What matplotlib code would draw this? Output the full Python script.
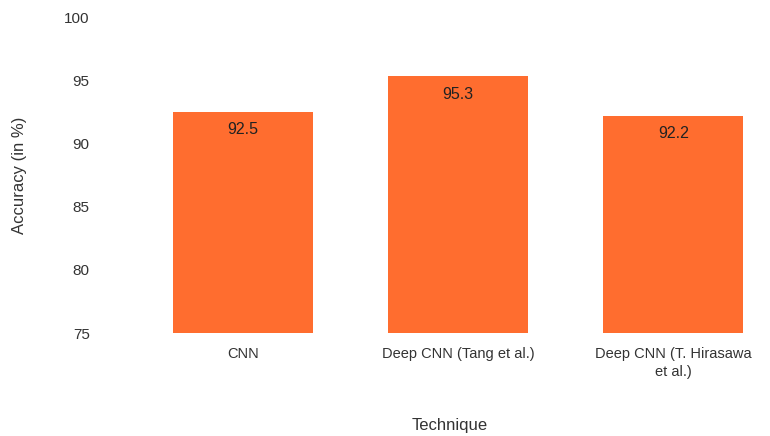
import matplotlib.pyplot as plt

plt.rcParams['font.family'] = ['Liberation Sans', 'DejaVu Sans']

techniques = ['CNN', 'Deep CNN (Tang et al.)', 'Deep CNN (T. Hirasawa\net al.)']
accuracy = [92.5, 95.3, 92.2]
y_ticks = [75, 80, 85, 90, 95, 100]

fig = plt.figure(figsize=(7.7, 4.36), dpi=100)
ax = fig.add_axes([130 / 770, 103 / 436, 640 / 770, 316 / 436])

x = range(len(techniques))
bars = ax.bar(x, accuracy, width=0.65, color='#FF6D2F', zorder=2)

for xi, v in zip(x, accuracy):
    ax.annotate(f'{v}', (xi, v), xytext=(0, -13), textcoords='offset points',
                ha='center', va='center', fontsize=11.5, color='#222222')

ax.set_xlim(-0.526, 2.45)
ax.set_ylim(75, 100)
ax.set_yticks(y_ticks)
ax.set_xticks(list(x))
ax.set_xticklabels(techniques, fontsize=10.5, color='#333333', linespacing=1.35)
ax.tick_params(axis='y', labelsize=11, labelcolor='#333333', length=0, pad=29)
ax.tick_params(axis='x', length=0, pad=10)
for s in ax.spines.values():
    s.set_visible(False)

ax.set_ylabel('Accuracy (in %)', fontsize=12, color='#333333', labelpad=27)
ax.set_xlabel('Technique', fontsize=12, color='#333333', labelpad=28)

fig.savefig('out.png', dpi=100)
